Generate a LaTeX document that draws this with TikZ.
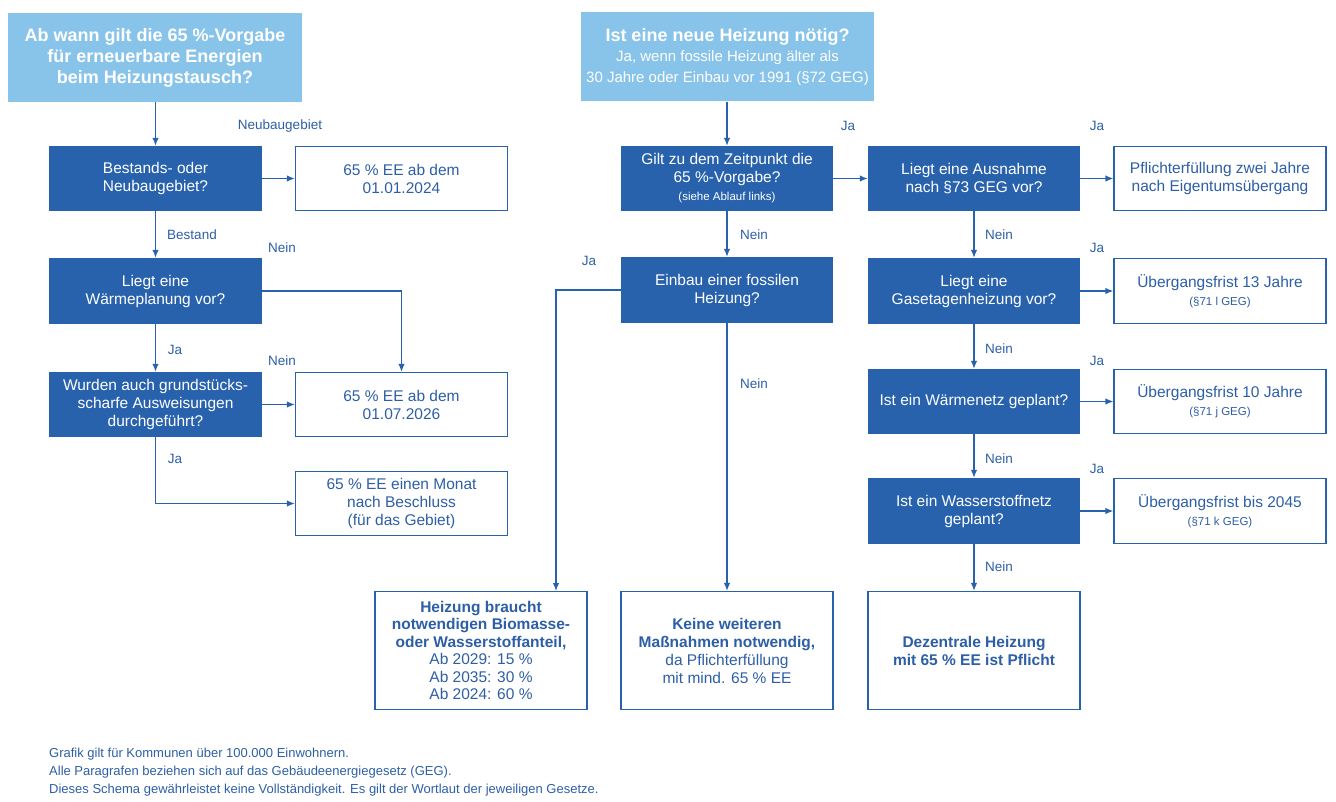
\documentclass[tikz,border=0pt]{standalone}
\usepackage{fontspec}
\setmainfont{Liberation Sans}
\usetikzlibrary{arrows.meta}
\definecolor{darkblue}{HTML}{2862AD}
\definecolor{lightblue}{HTML}{88C3EA}
\definecolor{textblue}{HTML}{2D5FA6}
\newcommand{\subnote}[1]{{\fontsize{11.5}{14}\selectfont #1}}

\begin{document}
\begin{tikzpicture}[x=1pt,y=-1pt,
    >={Latex[length=8pt,width=6.5pt]},
    head/.style={fill=lightblue, text=white, minimum width=294pt, minimum height=89pt, inner sep=0pt, align=center},
    question/.style={fill=darkblue, text=white, minimum width=213pt, minimum height=65pt, inner sep=0pt, align=center, font=\fontsize{15.5}{18}\selectfont},
    answer/.style={draw=darkblue, line width=1.2pt, fill=white, text=textblue, minimum width=212pt, minimum height=64pt, inner sep=0pt, align=center, font=\fontsize{15.5}{18}\selectfont},
    final/.style={answer, minimum height=118pt},
    lbl/.style={text=textblue, font=\fontsize{13.5}{15}\selectfont, inner sep=0pt},
    link/.style={->, draw=darkblue, line width=1.3pt}]
    \useasboundingbox (0,0) rectangle (1336,802);

    % Draw headers
    \node[head, font=\fontsize{18}{21}\selectfont\bfseries] (hleft) at (155,57.5)
        {Ab wann gilt die 65 \%-Vorgabe\\für erneuerbare Energien\\beim Heizungstausch?};
    \node[head, minimum width=293pt, font=\fontsize{15}{20.5}\selectfont] (hright) at (727.5,57)
        {{\fontsize{18}{20}\selectfont\bfseries Ist eine neue Heizung nötig?}\\Ja, wenn fossile Heizung älter als\\30 Jahre oder Einbau vor 1991 (§72 GEG)};
    \path[use as bounding box] (0,0) rectangle (1336,802);

    % Draw left column
    \node[question] (gebiet) at (155.5,178.5) {Bestands- oder\\Neubaugebiet?};
    \node[question, minimum height=66pt] (planung) at (155.5,291) {Liegt eine\\Wärmeplanung vor?};
    \node[question] (ausweis) at (155.5,404.5) {Wurden auch grundstücks-\\scharfe Ausweisungen\\durchgeführt?};
    \node[answer] (ab2024) at (401.5,178.5) {65 \% EE ab dem\\01.01.2024};
    \node[answer] (ab2026) at (401.5,404.5) {65 \% EE ab dem\\01.07.2026};
    \node[answer] (monat) at (401.5,503.5) {65 \% EE einen Monat\\nach Beschluss\\(für das Gebiet)};

    % Draw middle column
    \node[question, minimum width=212pt] (zeitpunkt) at (727,178.5)
        {Gilt zu dem Zeitpunkt die\\65 \%-Vorgabe?\\\subnote{(siehe Ablauf links)}};
    \node[question, minimum width=212pt, minimum height=66pt] (fossil) at (727,290) {Einbau einer fossilen\\Heizung?};
    \node[final, font=\fontsize{15.5}{17.5}\selectfont] (anteil) at (481,650.5)
        {\textbf{Heizung braucht}\\\textbf{notwendigen Biomasse-}\\\textbf{oder Wasserstoffanteil,}\\Ab 2029: 15 \%\\Ab 2035: 30 \%\\Ab 2024: 60 \%};
    \node[final] (keine) at (727,650.5)
        {\textbf{Keine weiteren}\\\textbf{Maßnahmen notwendig,}\\da Pflichterfüllung\\mit mind. 65 \% EE};
    \coordinate (anteilin) at (556,591);

    % Draw right column
    \node[question, minimum width=212pt] (ausnahme) at (974,178.5) {Liegt eine Ausnahme\\nach §73 GEG vor?};
    \node[question, minimum width=212pt, minimum height=66pt] (etage) at (974,291) {Liegt eine\\Gasetagenheizung vor?};
    \node[question, minimum width=212pt] (waermenetz) at (974,401.5) {Ist ein Wärmenetz geplant?};
    \node[question, minimum width=212pt, minimum height=66pt] (wasserstoff) at (974,511) {Ist ein Wasserstoffnetz\\geplant?};
    \node[final] (dezentral) at (974,650.5) {\textbf{Dezentrale Heizung}\\\textbf{mit 65 \% EE ist Pflicht}};
    \node[answer] (eigentum) at (1220,178.5) {Pflichterfüllung zwei Jahre\\nach Eigentumsübergang};
    \node[answer, minimum height=65pt] (frist13) at (1220,291) {Übergangsfrist 13 Jahre\\\subnote{(§71 l GEG)}};
    \node[answer] (frist10) at (1220,401.5) {Übergangsfrist 10 Jahre\\\subnote{(§71 j GEG)}};
    \node[answer, minimum height=65pt] (frist2045) at (1220,511) {Übergangsfrist bis 2045\\\subnote{(§71 k GEG)}};

    % Draw connectors
    \draw[link] (hleft.south -| gebiet.north) -- (gebiet);
    \draw[link] (gebiet) -- (ab2024);
    \draw[link] (gebiet) -- (planung);
    \draw[link] (planung.east) -| (ab2026.north);
    \draw[link] (planung) -- (ausweis);
    \draw[link] (ausweis) -- (ab2026);
    \draw[link] (ausweis.south) |- (monat.west);
    \draw[link] (hright.south -| zeitpunkt.north) -- (zeitpunkt);
    \draw[link] (zeitpunkt) -- (ausnahme);
    \draw[link] (zeitpunkt) -- (fossil);
    \draw[link] (fossil.west) -| (anteilin);
    \draw[link] (fossil) -- (keine);
    \draw[link] (ausnahme) -- (eigentum);
    \draw[link] (ausnahme) -- (etage);
    \draw[link] (etage) -- (frist13);
    \draw[link] (etage) -- (waermenetz);
    \draw[link] (waermenetz) -- (frist10);
    \draw[link] (waermenetz) -- (wasserstoff);
    \draw[link] (wasserstoff) -- (frist2045);
    \draw[link] (wasserstoff) -- (dezentral);

    % Draw labels
    \node[lbl] (l1) at (280,126) {Neubaugebiet};
    \node[lbl] (l2) at (192,235) {Bestand};
    \node[lbl] (l3) at (282,248) {Nein};
    \node[lbl] (l4) at (175,350) {Ja};
    \node[lbl] (l5) at (282,361) {Nein};
    \node[lbl] (l6) at (175,459) {Ja};
    \node[lbl] (l7) at (848,126) {Ja};
    \node[lbl] (l8) at (754,235) {Nein};
    \node[lbl] (l9) at (589,261) {Ja};
    \node[lbl] (l10) at (754,384) {Nein};
    \node[lbl] (l11) at (1097,126) {Ja};
    \node[lbl] (l12) at (999,235) {Nein};
    \node[lbl] (l13) at (1097,248) {Ja};
    \node[lbl] (l14) at (999,349) {Nein};
    \node[lbl] (l15) at (1097,361) {Ja};
    \node[lbl] (l16) at (999,459) {Nein};
    \node[lbl] (l17) at (1097,469) {Ja};
    \node[lbl] (l18) at (999,567) {Nein};

    % Draw footnote
    \node[lbl, anchor=north west, align=left, font=\fontsize{13}{18}\selectfont] (note) at (49,748)
        {Grafik gilt für Kommunen über 100.000 Einwohnern.\\Alle Paragrafen beziehen sich auf das Gebäudeenergiegesetz (GEG).\\Dieses Schema gewährleistet keine Vollständigkeit. Es gilt der Wortlaut der jeweiligen Gesetze.};
\end{tikzpicture}
\end{document}
